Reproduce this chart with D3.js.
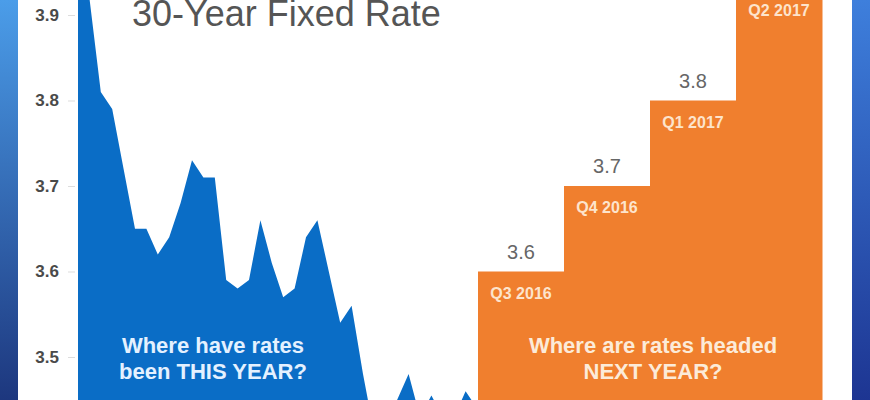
<!DOCTYPE html>
<html>
<head>
<meta charset="utf-8">
<script src="https://cdn.jsdelivr.net/npm/d3@7"></script>
<style>
  html, body { margin: 0; padding: 0; background: #ffffff; }
  svg { display: block; }
  text { font-family: "Liberation Sans", Arial, sans-serif; }
</style>
</head>
<body>
<svg id="chart" width="870" height="400"></svg>
<script>
// ---- data ----
const weeklyRates = [3.97, 3.92, 3.81, 3.79, 3.72, 3.65, 3.65, 3.62, 3.64, 3.68,
                     3.73, 3.71, 3.71, 3.59, 3.58, 3.59, 3.66, 3.61, 3.57, 3.58,
                     3.64, 3.66, 3.60, 3.54, 3.56, 3.48, 3.41, 3.42, 3.45, 3.48,
                     3.43, 3.455, 3.43, 3.43, 3.46, 3.44];
const quarters = ["Q3 2016", "Q4 2016", "Q1 2017", "Q2 2017"];
const forecast = [3.6, 3.7, 3.8, 3.93];
const forecastLabels = ["3.6", "3.7", "3.8", ""];
const yTicks = [3.5, 3.6, 3.7, 3.8, 3.9];
const titleText = "30-Year Fixed Rate";
const blueText = ["Where have rates", "been THIS YEAR?"];
const orangeText = ["Where are rates headed", "NEXT YEAR?"];

const W = 870, H = 400;
const svg = d3.select("#chart");

// frame gradients
const defs = svg.append("defs");
const gl = defs.append("linearGradient").attr("id", "frameL").attr("x1", 0).attr("y1", 0).attr("x2", 0).attr("y2", 1);
gl.append("stop").attr("offset", "0%").attr("stop-color", "#4b9de9");
gl.append("stop").attr("offset", "100%").attr("stop-color", "#1d377e");
const gr = defs.append("linearGradient").attr("id", "frameR").attr("x1", 0).attr("y1", 0).attr("x2", 0).attr("y2", 1);
gr.append("stop").attr("offset", "0%").attr("stop-color", "#3e7fdc");
gr.append("stop").attr("offset", "100%").attr("stop-color", "#1d3592");

svg.append("rect").attr("x", 0).attr("y", 0).attr("width", W).attr("height", H).attr("fill", "#ffffff");
svg.append("rect").attr("x", 0).attr("y", 0).attr("width", 18).attr("height", H).attr("fill", "url(#frameL)");
svg.append("rect").attr("x", 852).attr("y", 0).attr("width", 18).attr("height", H).attr("fill", "url(#frameR)");

// scales
const y = d3.scaleLinear().domain([3.4, 3.9]).range([442.5, 15]);
const xWeek = d3.scaleLinear().domain([0, weeklyRates.length - 1]).range([78, 477]);
const xQ = d3.scaleBand().domain(quarters).range([478, 822]).padding(0);

// blue area (this year)
const area = d3.area()
  .x((d, i) => xWeek(i))
  .y0(y(3.4))
  .y1(d => y(d))
  .curve(d3.curveLinear);
svg.append("path").datum(weeklyRates).attr("d", area).attr("fill", "#0a6dc6");

// orange step bars (forecast)
const bars = svg.append("g");
bars.selectAll("rect").data(quarters).join("rect")
  .attr("x", d => xQ(d))
  .attr("y", (d, i) => y(forecast[i]))
  .attr("width", xQ.bandwidth() + 0.5)
  .attr("height", (d, i) => y(3.4) - y(forecast[i]))
  .attr("fill", "#f07f2e");

bars.selectAll("text.q").data(quarters).join("text")
  .attr("class", "q")
  .attr("x", d => xQ(d) + xQ.bandwidth() / 2)
  .attr("y", (d, i) => y(forecast[i]) + 27)
  .attr("text-anchor", "middle")
  .attr("font-size", 16)
  .attr("font-weight", "bold")
  .attr("fill", "#fde4cc")
  .text(d => d);

bars.selectAll("text.v").data(quarters).join("text")
  .attr("class", "v")
  .attr("x", d => xQ(d) + xQ.bandwidth() / 2)
  .attr("y", (d, i) => y(forecast[i]) - 13)
  .attr("text-anchor", "middle")
  .attr("font-size", 20)
  .attr("fill", "#666666")
  .text((d, i) => forecastLabels[i]);

// y axis
const axis = svg.append("g").attr("transform", "translate(75,0)")
  .call(d3.axisLeft(y).tickValues(yTicks).tickSize(7).tickPadding(9).tickFormat(d3.format(".1f")));
axis.select(".domain").remove();
axis.selectAll(".tick line").attr("stroke", "#dddddd");
axis.selectAll(".tick text")
  .attr("font-size", 17)
  .attr("font-weight", "bold")
  .attr("fill", "#4a4a4a")
  .attr("font-family", "'Liberation Sans', Arial, sans-serif");

// title
svg.append("text")
  .attr("x", 132).attr("y", 26)
  .attr("font-size", 36)
  .attr("fill", "#555555")
  .text(titleText);

// captions
svg.append("text")
  .attr("text-anchor", "middle")
  .attr("font-size", 22).attr("font-weight", "bold").attr("fill", "#e4f1ff")
  .selectAll("tspan").data(blueText).join("tspan")
  .attr("x", 213).attr("y", (d, i) => 353 + i * 26)
  .text(d => d);

svg.append("text")
  .attr("text-anchor", "middle")
  .attr("font-size", 22).attr("font-weight", "bold").attr("fill", "#fcebd9")
  .selectAll("tspan").data(orangeText).join("tspan")
  .attr("x", 653).attr("y", (d, i) => 353 + i * 26)
  .text(d => d);
</script>
</body>
</html>
